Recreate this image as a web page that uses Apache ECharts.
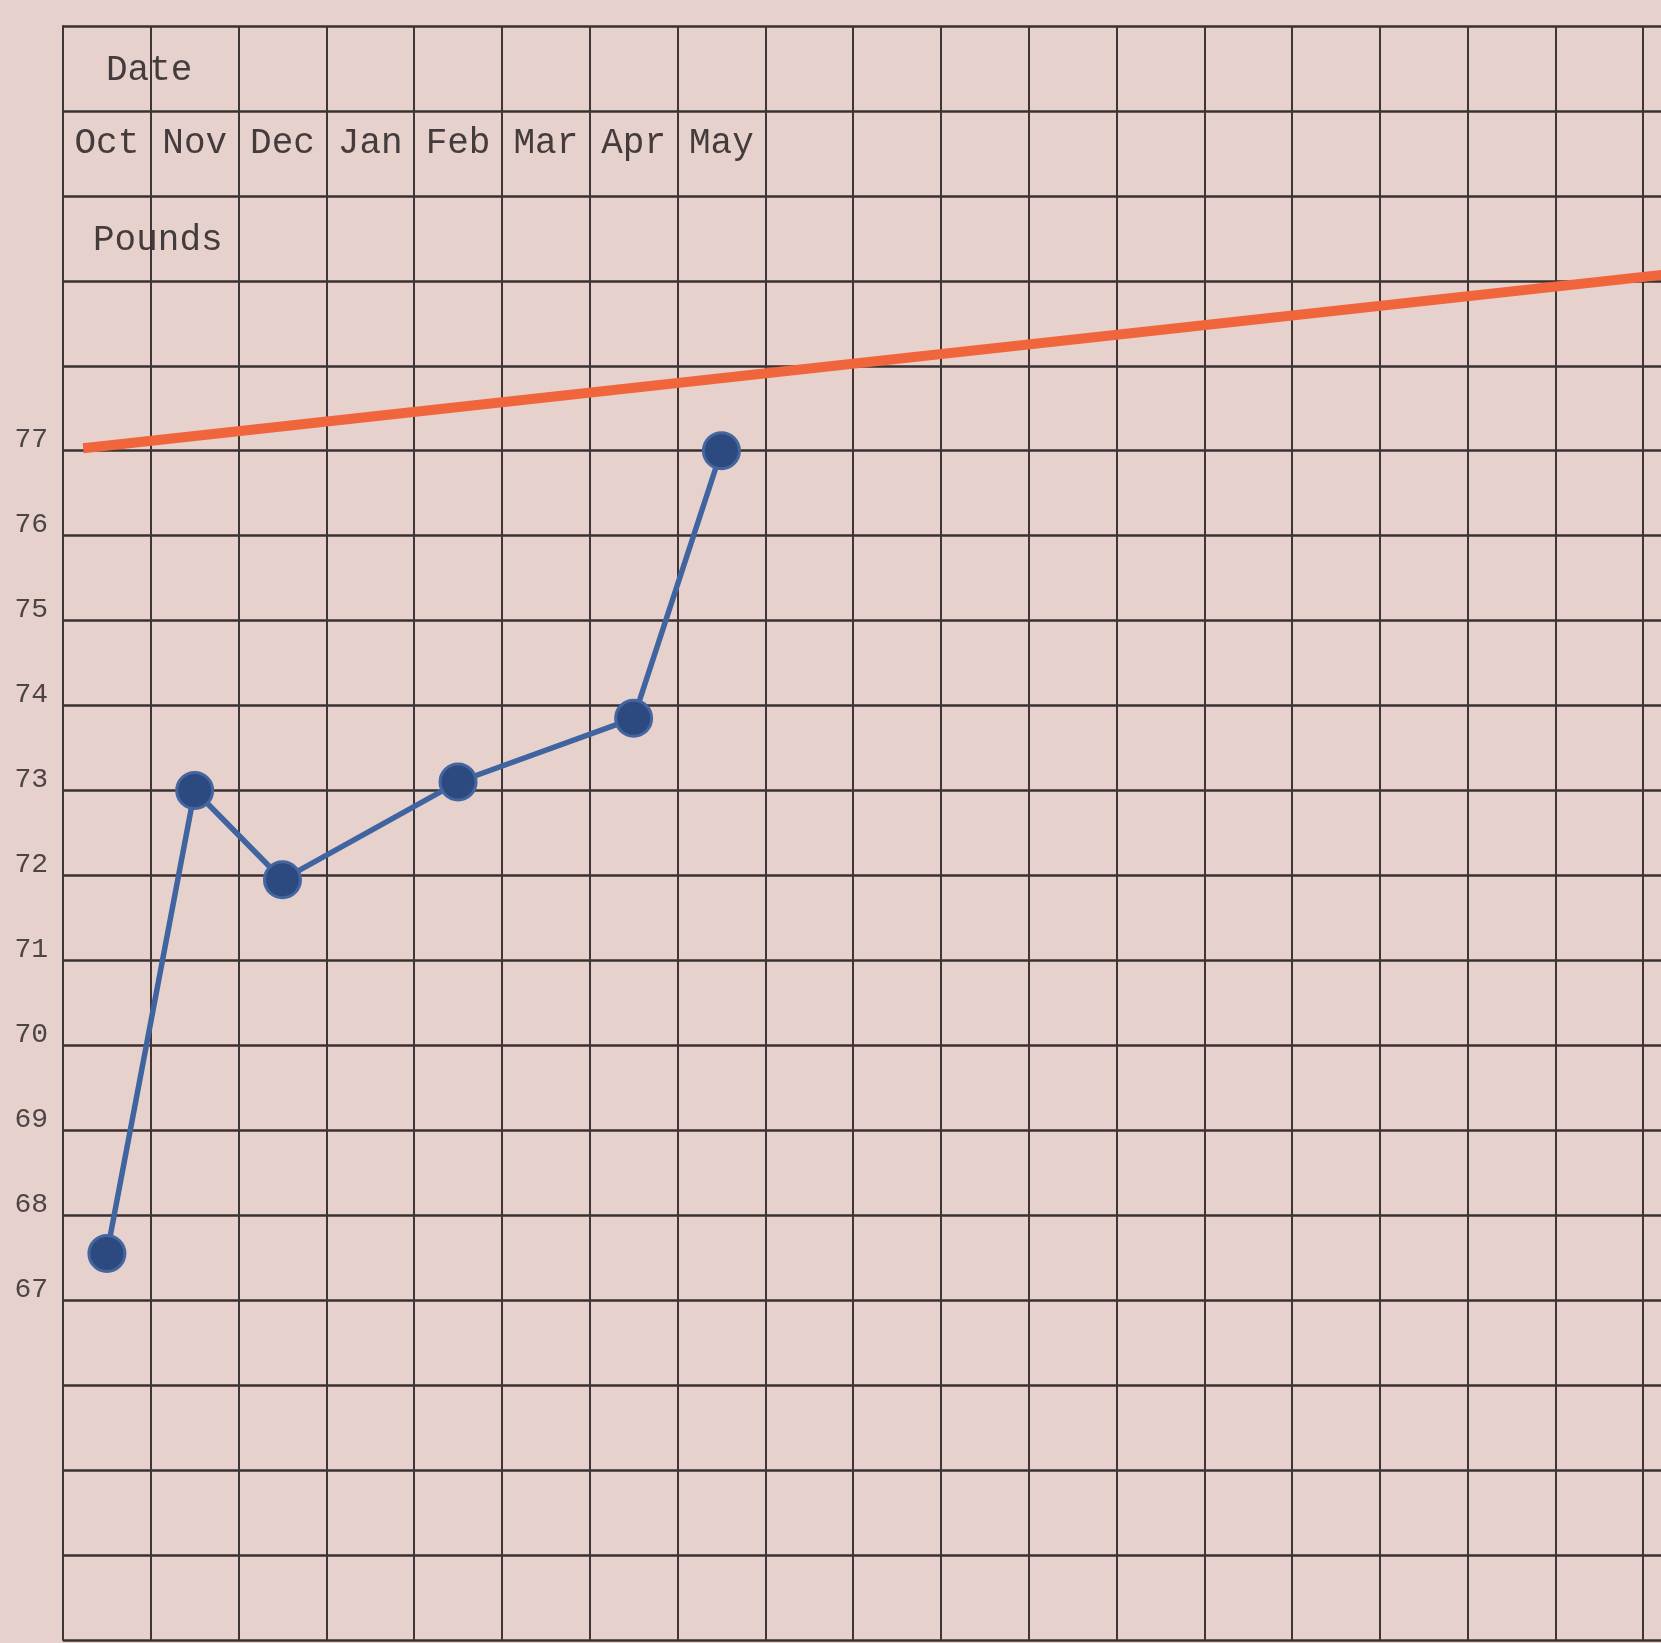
<!DOCTYPE html>
<html>
<head>
<meta charset="utf-8">
<title>Pounds by month</title>
<script src="https://cdn.jsdelivr.net/npm/echarts@6/dist/echarts.min.js"></script>
<style>
html, body { margin: 0; padding: 0; background: #e7d1cc; }
#chart { width: 1661px; height: 1643px; }
</style>
</head>
<body>
<div id="chart"></div>
<script>
// columns of the sheet, only the first eight carry a month
const months = ['Oct', 'Nov', 'Dec', 'Jan', 'Feb', 'Mar', 'Apr', 'May', '', '', '', '', '', '', '', '', '', '', '']
// weight in pounds, nothing entered for Jan and Mar
const pounds = [67.55, 73.0, 71.95, null, 73.1, null, 73.85, 77.0]
// red guide line, ruled from edge to edge (x in columns)
const guideX = [0.23, 19]
const guideY = [77.03, 79.16]
// only these pounds are typed in the margin
const labelMin = 67
const labelMax = 77

const typeFont = '"Liberation Mono", "DejaVu Sans Mono", monospace'
const chart = echarts.init(document.getElementById('chart'))

const option = {
  backgroundColor: '#e7d1cc',
  animation: false,
  // the sheet runs on past the right edge of the scan
  grid: { left: 63, top: 26, width: 1668, height: 1614, outerBoundsMode: 'none' },
  xAxis: [
    {
      type: 'category',
      position: 'top',
      data: months,
      boundaryGap: true,
      axisLine: { show: false },
      axisTick: { show: false },
      axisLabel: {
        inside: true,
        interval: 0,
        margin: 117,
        verticalAlign: 'middle',
        fontFamily: typeFont,
        fontSize: 36,
        color: '#443c3c'
      },
      splitLine: {
        show: true,
        interval: 0,
        lineStyle: { color: '#3e3636', width: 2 }
      }
    },
    // plain column scale for the ruled guide line
    { type: 'value', min: 0, max: 19, show: false }
  ],
  yAxis: {
    type: 'value',
    min: 63,
    max: 82,
    interval: 1,
    axisLine: { show: true, lineStyle: { color: '#3e3636', width: 2 } },
    axisTick: { show: false },
    axisLabel: {
      margin: 15,
      fontFamily: typeFont,
      fontSize: 28,
      color: '#4d4545',
      verticalAlign: 'bottom',
      lineHeight: 22,
      formatter: v => (v >= labelMin && v <= labelMax ? String(v) : '')
    },
    splitLine: { lineStyle: { color: '#383131', width: 2.5 } }
  },
  graphic: [
    {
      type: 'text',
      left: 106,
      top: 52,
      style: { text: 'Date', fontFamily: typeFont, fontSize: 36, fill: '#443c3c' }
    },
    {
      type: 'text',
      left: 93,
      top: 222,
      style: { text: 'Pounds', fontFamily: typeFont, fontSize: 36, fill: '#443c3c' }
    }
  ],
  series: [
    {
      type: 'line',
      xAxisIndex: 1,
      data: guideX.map((x, i) => [x, guideY[i]]),
      symbol: 'none',
      lineStyle: { color: '#f0653c', width: 10 },
      z: 3
    },
    {
      type: 'line',
      xAxisIndex: 0,
      data: pounds,
      connectNulls: true,
      symbol: 'circle',
      symbolSize: 36,
      lineStyle: { color: '#3f649f', width: 5.5 },
      itemStyle: { color: '#2d4a80', borderColor: '#4466a0', borderWidth: 3 },
      z: 4
    }
  ]
}

chart.setOption(option)
</script>
</body>
</html>
